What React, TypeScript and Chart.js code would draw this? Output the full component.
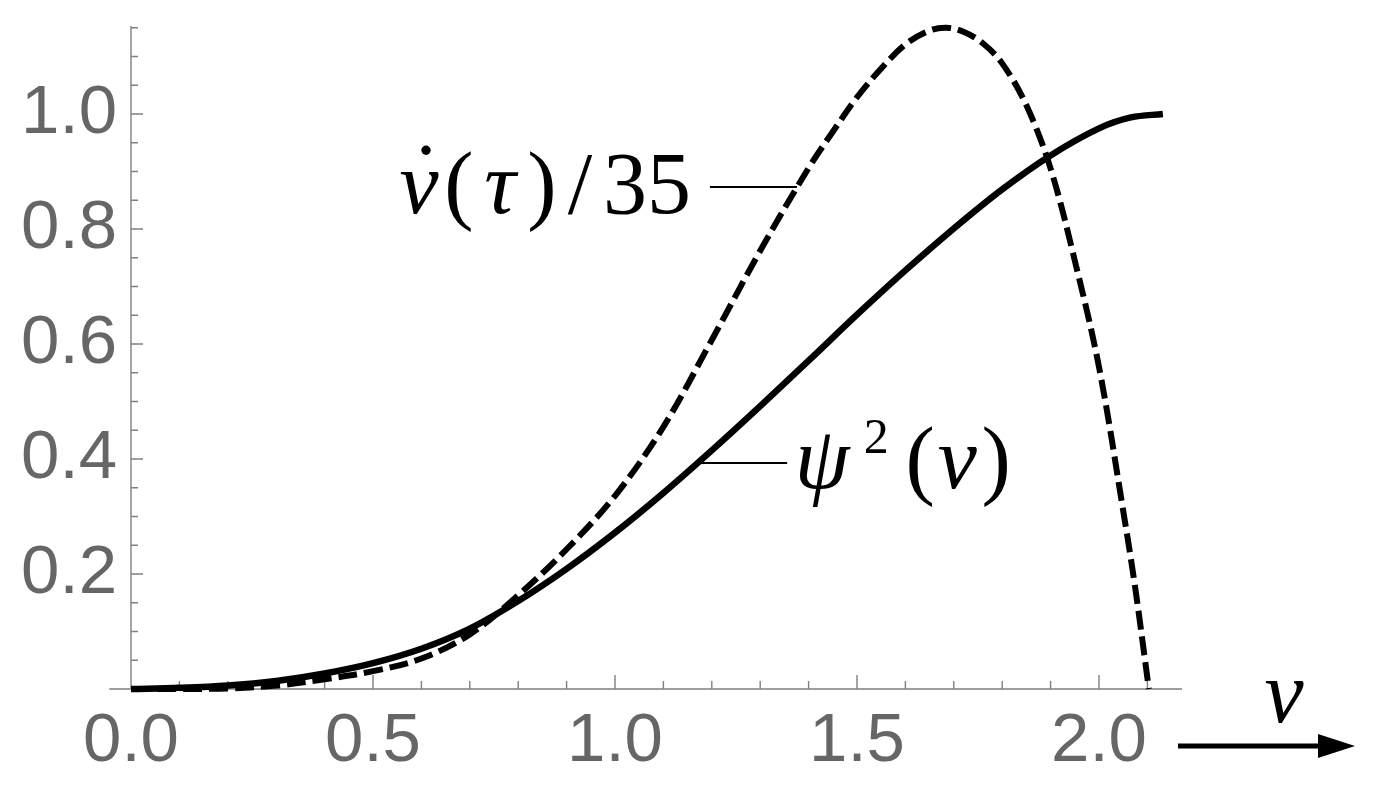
import React, { useEffect, useRef } from 'react';
import { Chart, registerables } from 'chart.js';

Chart.register(...registerables);

// psi^2(v) (solid curve)
const psiV = [0, 0.1, 0.2, 0.3, 0.4, 0.5, 0.6, 0.7, 0.8, 0.9, 1.0, 1.1, 1.2, 1.3, 1.4, 1.5, 1.6, 1.7, 1.8, 1.9, 2.0, 2.066, 2.132];
const psiVals = [0, 0.002, 0.006, 0.014, 0.027, 0.045, 0.07, 0.105, 0.153, 0.209, 0.272, 0.341, 0.415, 0.492, 0.571, 0.651, 0.728, 0.801, 0.869, 0.928, 0.975, 0.994, 1.0];

// v'(tau)/35 (dashed curve)
const dotV = [0, 0.1, 0.2, 0.3, 0.4, 0.5, 0.6, 0.7, 0.8, 0.9, 1.0, 1.1, 1.2, 1.3, 1.4, 1.45, 1.5, 1.55, 1.6, 1.65, 1.685, 1.72, 1.76, 1.8, 1.85, 1.9, 1.95, 2.0, 2.05, 2.075, 2.103];
const dotVals = [0, 0.0, 0.001, 0.006, 0.017, 0.031, 0.053, 0.095, 0.163, 0.243, 0.336, 0.456, 0.607, 0.762, 0.906, 0.969, 1.029, 1.079, 1.121, 1.145, 1.15, 1.143, 1.123, 1.088, 1.015, 0.905, 0.745, 0.56, 0.31, 0.175, 0];

const xTickValues = [0, 0.5, 1.0, 1.5, 2.0];
const xTickLabels = ['0.0', '0.5', '1.0', '1.5', '2.0'];
const yTickValues = [0.2, 0.4, 0.6, 0.8, 1.0];
const yTickLabels = ['0.2', '0.4', '0.6', '0.8', '1.0'];

const X_MIN = 0;
const X_MAX = 2.1715;
const X_AXIS_FROM = -0.045;
const Y_MIN = 0;
const Y_MAX = 1.153;

// annotation anchor points on the curves
const dotLabelAt = [1.376, 0.873];
const psiLabelAt = [1.176, 0.393];

const SERIF = '"Liberation Serif", "DejaVu Serif", serif';
const SANS = '"Liberation Sans", Arial, sans-serif';

const axesPlugin = {
  id: 'mmaAxes',
  beforeDatasetsDraw(chart: any) {
    const { ctx, scales } = chart;
    const x = scales.x;
    const y = scales.y;
    ctx.save();
    ctx.strokeStyle = '#808080';
    ctx.lineWidth = 1.4;
    const y0 = y.getPixelForValue(0);
    const x0 = x.getPixelForValue(0);
    ctx.beginPath();
    ctx.moveTo(x.getPixelForValue(X_AXIS_FROM), y0);
    ctx.lineTo(x.getPixelForValue(X_MAX), y0);
    ctx.moveTo(x0, y0);
    ctx.lineTo(x0, y.getPixelForValue(Y_MAX));
    for (let i = 1; i <= 21; i++) {
      const px = x.getPixelForValue(i / 10);
      const major = i % 5 === 0;
      ctx.moveTo(px, y0);
      ctx.lineTo(px, y0 - (major ? 14 : 8));
    }
    for (let i = 1; i <= 23; i++) {
      const py = y.getPixelForValue(i * 0.05);
      const major = i % 4 === 0;
      ctx.moveTo(x0, py);
      ctx.lineTo(x0 + (major ? 12 : 7), py);
    }
    ctx.stroke();
    ctx.restore();
  },
  afterDatasetsDraw(chart: any) {
    const { ctx, scales, chartArea } = chart;
    const x = scales.x;
    const y = scales.y;
    ctx.save();
    ctx.fillStyle = '#000';
    ctx.strokeStyle = '#000';
    const ital = `italic 88px ${SERIF}`;
    const norm = `88px ${SERIF}`;
    const put = (t: string, font: string, cx: number, base: number) => {
      ctx.font = font;
      ctx.textAlign = 'center';
      ctx.textBaseline = 'alphabetic';
      ctx.fillText(t, cx, base);
    };

    // label for dashed curve
    const ax = x.getPixelForValue(dotLabelAt[0]);
    const ay = y.getPixelForValue(dotLabelAt[1]);
    ctx.lineWidth = 1.8;
    ctx.beginPath();
    ctx.moveTo(ax - 87, ay);
    ctx.lineTo(ax, ay);
    ctx.stroke();
    const tEnd = ax - 87 - 22;
    const b1 = ay + 26;
    put('v', ital, tEnd - 269, b1);
    put('\u02D9', norm, tEnd - 262, b1 - 8);
    put('(', norm, tEnd - 229, b1);
    put('\u03C4', ital, tEnd - 188, b1);
    put(')', norm, tEnd - 146, b1);
    put('/', norm, tEnd - 108, b1);
    put('35', norm, tEnd - 41, b1);

    // label for solid curve
    const bx = x.getPixelForValue(psiLabelAt[0]);
    const by = y.getPixelForValue(psiLabelAt[1]);
    ctx.beginPath();
    ctx.moveTo(bx, by);
    ctx.lineTo(bx + 87, by);
    ctx.stroke();
    const tStart = bx + 87 + 16;
    const b2 = by + 25;
    put('\u03C8', ital, tStart + 19, b2);
    put('2', `50px ${SERIF}`, tStart + 73, b2 - 35);
    put('(', norm, tStart + 117, b2);
    put('v', ital, tStart + 154, b2);
    put(')', norm, tStart + 193, b2);

    // axis label with arrow
    const arY = chartArea.bottom + 57;
    const arX0 = chartArea.right - 4;
    ctx.lineWidth = 5;
    ctx.beginPath();
    ctx.moveTo(arX0, arY);
    ctx.lineTo(arX0 + 142, arY);
    ctx.stroke();
    ctx.beginPath();
    ctx.moveTo(arX0 + 177, arY);
    ctx.lineTo(arX0 + 140, arY - 12);
    ctx.lineTo(arX0 + 140, arY + 12);
    ctx.closePath();
    ctx.fill();
    put('v', ital, arX0 + 106, chartArea.bottom + 33);
    ctx.restore();
  },
};

export default function App() {
  const ref = useRef<HTMLCanvasElement | null>(null);
  useEffect(() => {
    if (!ref.current) return;
    const psiData = psiV.map((v, i) => ({ x: v, y: psiVals[i] }));
    const dotData = dotV.map((v, i) => ({ x: v, y: dotVals[i] }));
    const chart = new Chart(ref.current, {
      type: 'line',
      data: {
        datasets: [
          {
            label: 'psi^2(v)',
            data: psiData,
            borderColor: '#000',
            borderWidth: 6.5,
            pointRadius: 0,
            tension: 0.35,
            borderCapStyle: 'butt',
            borderJoinStyle: 'round',
            clip: false,
          },
          {
            label: 'vdot/35',
            data: dotData,
            borderColor: '#000',
            borderWidth: 6,
            borderDash: [19, 7],
            pointRadius: 0,
            tension: 0.35,
            borderCapStyle: 'butt',
            clip: false,
          },
        ],
      },
      options: {
        responsive: false,
        animation: false,
        events: [],
        layout: { padding: { top: 26, right: 199, left: 0, bottom: 0 } },
        plugins: { legend: { display: false }, tooltip: { enabled: false } },
        scales: {
          x: {
            type: 'linear',
            position: 'bottom',
            min: X_MIN,
            max: X_MAX,
            grid: { display: false, drawTicks: false },
            border: { display: false },
            afterBuildTicks: (s: any) => {
              s.ticks = xTickValues.map((v) => ({ value: v }));
            },
            afterFit: (s: any) => {
              s.height = 97;
            },
            ticks: {
              autoSkip: false,
              maxRotation: 0,
              padding: 12,
              color: '#666666',
              font: { family: SANS, size: 69, lineHeight: 1.2 },
              callback: (_v: any, i: number) => xTickLabels[i],
            },
          },
          y: {
            type: 'linear',
            position: 'left',
            min: Y_MIN,
            max: Y_MAX,
            grid: { display: false, drawTicks: false },
            border: { display: false },
            afterBuildTicks: (s: any) => {
              s.ticks = yTickValues.map((v) => ({ value: v }));
            },
            afterFit: (s: any) => {
              s.width = 131;
            },
            ticks: {
              autoSkip: false,
              padding: 14,
              color: '#666666',
              font: { family: SANS, size: 69, lineHeight: 0.15 },
              callback: (_v: any, i: number) => yTickLabels[i],
            },
          },
        },
      },
      plugins: [axesPlugin],
    });
    return () => chart.destroy();
  }, []);
  return (
    <div style={{ position: 'fixed', left: 0, top: 0, width: 1381, height: 786, background: '#fff' }}>
      <canvas ref={ref} width={1381} height={786} style={{ display: 'block' }} />
    </div>
  );
}
